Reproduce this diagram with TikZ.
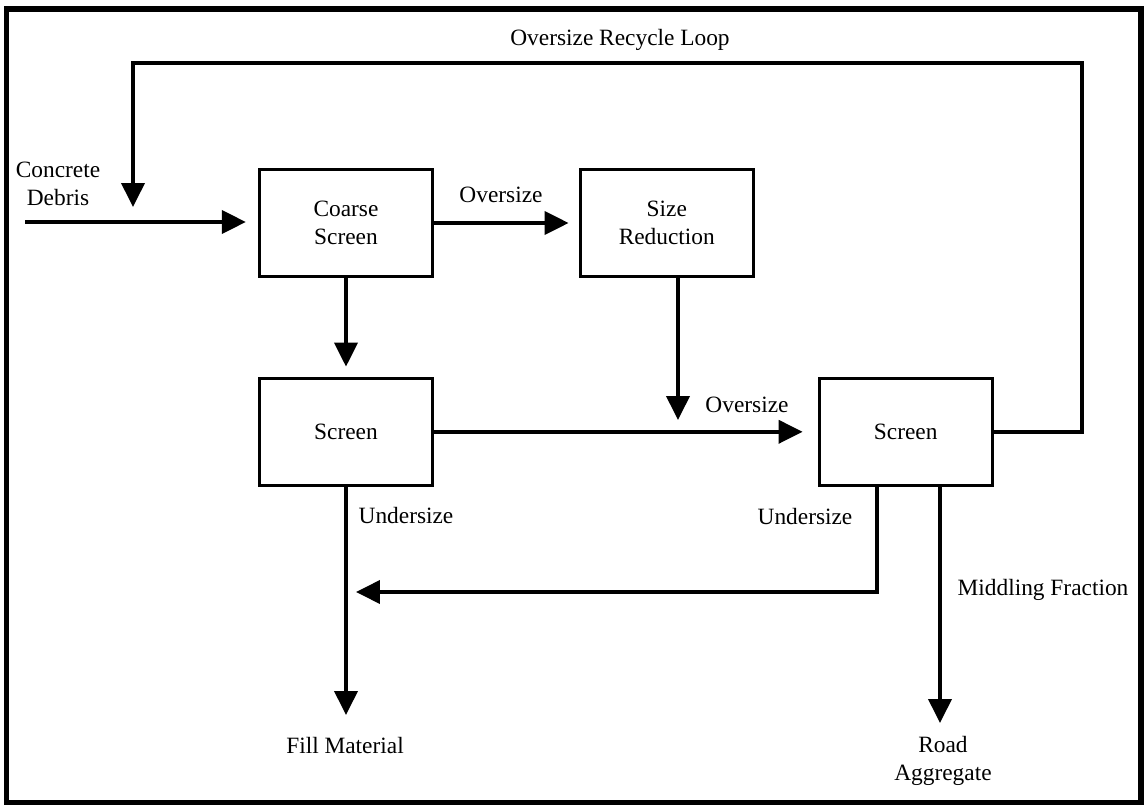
\documentclass[tikz,border=0pt]{standalone}
\usepackage{fontspec}
\setmainfont{Liberation Serif}
\usetikzlibrary{arrows.meta,positioning}

\begin{document}
\begin{tikzpicture}[
  x=0.02cm,y=-0.02cm,
  box/.style={draw,line width=1.9pt,minimum width=3.46cm,minimum height=2.14cm,align=center,font=\fontsize{13.3}{15.6}\selectfont},
  lbl/.style={inner sep=0pt,align=center,font=\fontsize{13.3}{15.6}\selectfont},
  arr/.style={-{Triangle[length=0.48cm,width=0.46cm]},line width=2.2pt}
]
\useasboundingbox (0,0) rectangle (1144,805);
\draw[line width=3.2pt] (6.5,9) rectangle (1141,803);

\node[box] (coarse) at (346,223) {Coarse\\Screen};
\node[box,right=2.89cm of coarse] (sizered) {Size\\Reduction};
\node[box,below=1.97cm of coarse] (screenA) {Screen};
\node[box,right=7.67cm of screenA] (screenB) {Screen};

\node[lbl] (debris) at (58,184) {Concrete\\Debris};
\node[lbl] (loop) at (620,40) {Oversize Recycle Loop};
\node[lbl] (overA) at (501,195) {Oversize};
\node[lbl] (overB) at (747,405) {Oversize};
\node[lbl] (underA) at (406,516) {Undersize};
\node[lbl] (underB) at (805,517) {Undersize};
\node[lbl] (middling) at (1043,590) {Middling Fraction};
\node[lbl] (fill) at (345,746) {Fill Material};
\node[lbl] (road) at (943,761) {Road\\Aggregate};

\coordinate (feed) at (25,222);
\coordinate (loopR) at (1082,63);
\coordinate (loopL) at (133,63);
\coordinate (looptip) at (133,207);
\coordinate (redtip) at (678,420);
\coordinate (undcorner) at (877,592);
\coordinate (undtip) at (356,592);
\coordinate (filltip) at (345,715);
\coordinate (roadtip) at (940,723);

\draw[arr,shorten >=0.24cm] (feed) -- (feed -| coarse.west);
\draw[arr,shorten >=0.2cm] (coarse) -- (sizered);
\draw[arr,shorten >=0.2cm] (coarse) -- (screenA);
\draw[arr] (sizered.south -| redtip) -- (redtip);
\draw[arr,shorten >=0.3cm] (screenA) -- (screenB);
\draw[arr] (screenB.east) -| (loopR) -- (loopL) -- (looptip);
\draw[arr] (screenB.south -| undcorner) -- (undcorner) -- (undtip);
\draw[arr] (screenA.south) -- (screenA.south |- filltip);
\draw[arr] (screenB.south -| roadtip) -- (roadtip);
\end{tikzpicture}
\end{document}
